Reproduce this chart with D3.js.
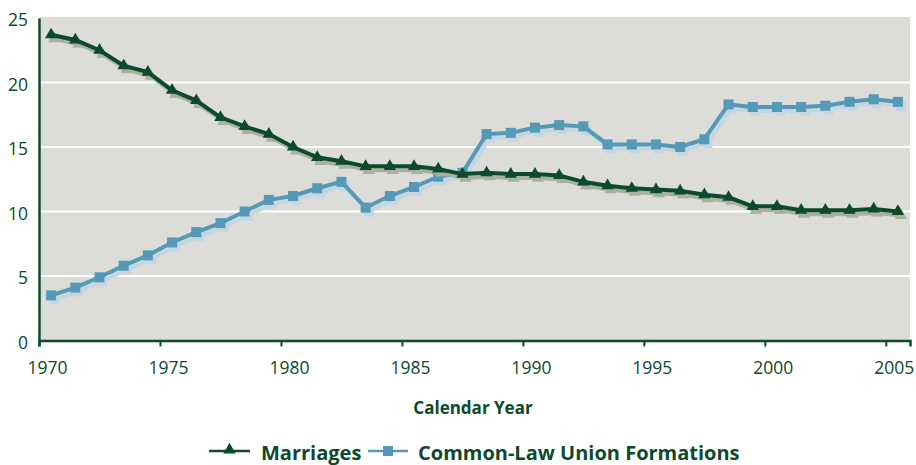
<!DOCTYPE html>
<html>
<head>
<meta charset="utf-8">
<script src="https://cdn.jsdelivr.net/npm/d3@7"></script>
<style>
  body { margin: 0; background: #fff; }
  svg { font-family: "Open Sans", "Noto Sans", sans-serif; }
</style>
</head>
<body>
<svg id="chart" width="916" height="465"></svg>
<script>
// years (points sit at mid-year)
const years = d3.range(1970, 2006);
const marriages = [23.7, 23.3, 22.5, 21.3, 20.8, 19.4, 18.6, 17.3, 16.6, 16.0,
  15.0, 14.2, 13.9, 13.5, 13.5, 13.5, 13.3, 12.9, 13.0, 12.9,
  12.9, 12.8, 12.3, 12.0, 11.8, 11.7, 11.6, 11.3, 11.1, 10.4,
  10.4, 10.1, 10.1, 10.1, 10.2, 10.0];
const commonLaw = [3.5, 4.1, 4.9, 5.8, 6.6, 7.6, 8.4, 9.1, 10.0, 10.9,
  11.2, 11.8, 12.3, 10.3, 11.2, 11.9, 12.7, 13.0, 16.0, 16.1,
  16.5, 16.7, 16.6, 15.2, 15.2, 15.2, 15.0, 15.6, 18.3, 18.1,
  18.1, 18.1, 18.2, 18.5, 18.7, 18.5];
const xTicks = [1970, 1975, 1980, 1985, 1990, 1995, 2000, 2005];
const yTicks = [0, 5, 10, 15, 20, 25];

const green = "#0b4a2a";
const blue = "#5499b6";

const svg = d3.select("#chart");
const x = d3.scaleLinear().domain([1970, 2006]).range([39, 910]);
const y = d3.scaleLinear().domain([0, 25]).range([340.5, 18]);

// plot background
svg.append("rect")
  .attr("x", x(1970)).attr("y", y(25) - 1)
  .attr("width", x(2006) - x(1970)).attr("height", y(0) - y(25) + 1)
  .attr("fill", "#dcddd8");

// gridlines
svg.append("g").selectAll("line")
  .data(yTicks.filter(d => d > 0 && d < 25))
  .join("line")
  .attr("x1", x(1970)).attr("x2", x(2006))
  .attr("y1", d => y(d)).attr("y2", d => y(d))
  .attr("stroke", "#fff").attr("stroke-width", 2);

// axes
const xAxis = svg.append("g")
  .attr("transform", `translate(0,${y(0)})`)
  .call(d3.axisBottom(x).tickValues(xTicks).tickFormat(d3.format("d")).tickSize(6).tickPadding(15));
const yAxis = svg.append("g")
  .attr("transform", `translate(${x(1970)},0)`)
  .call(d3.axisLeft(y).tickValues(yTicks).tickSize(0).tickPadding(11));
[xAxis, yAxis].forEach(g => {
  g.select(".domain").attr("stroke", green).attr("stroke-width", 2.5);
  g.selectAll(".tick line").attr("stroke", green).attr("stroke-width", 2);
  g.selectAll(".tick text").attr("fill", green).attr("font-size", 17.5)
    .attr("font-family", "'Open Sans', sans-serif");
});
// year labels sit a little right of their ticks
xAxis.selectAll(".tick text").attr("dx", 8);
yAxis.selectAll(".tick text").attr("dy", "0.45em");

const pts = vals => vals.map((v, i) => [years[i] + 0.5, v]);
const line = d3.line().x(d => x(d[0])).y(d => y(d[1]));
const tri = d3.symbol().type(d3.symbolTriangle).size(66);
const sq = d3.symbol().type(d3.symbolSquare).size(100);

function drawSeries(vals, color, shadow, sym) {
  const data = pts(vals);
  const sh = svg.append("g").attr("transform", "translate(3,4)");
  sh.append("path").datum(data).attr("d", line)
    .attr("fill", "none").attr("stroke", shadow).attr("stroke-width", 4);
  sh.selectAll("path.m").data(data).join("path").attr("class", "m")
    .attr("d", sym).attr("transform", d => `translate(${x(d[0])},${y(d[1])})`)
    .attr("fill", shadow);
  const g = svg.append("g");
  g.append("path").datum(data).attr("d", line)
    .attr("fill", "none").attr("stroke", color).attr("stroke-width", 4);
  g.selectAll("path.m").data(data).join("path").attr("class", "m")
    .attr("d", sym).attr("transform", d => `translate(${x(d[0])},${y(d[1])})`)
    .attr("fill", color);
}
drawSeries(commonLaw, blue, "#c4d6e1", sq);
drawSeries(marriages, green, "#a9b09f", tri);

// axis title
svg.append("text")
  .attr("x", 473).attr("y", 414)
  .attr("text-anchor", "middle")
  .attr("fill", green).attr("font-weight", "bold").attr("font-size", 17)
  .text("Calendar Year");

// legend
const legend = svg.append("g");
legend.append("line").attr("x1", 209).attr("x2", 250).attr("y1", 451).attr("y2", 451)
  .attr("stroke", green).attr("stroke-width", 2.5);
legend.append("path").attr("d", tri).attr("transform", "translate(229.5,450)").attr("fill", green);
legend.append("text").attr("x", 261).attr("y", 460)
  .attr("fill", green).attr("font-weight", "bold").attr("font-size", 20).text("Marriages");
legend.append("line").attr("x1", 368).attr("x2", 408).attr("y1", 451).attr("y2", 451)
  .attr("stroke", blue).attr("stroke-width", 2.5);
legend.append("path").attr("d", sq).attr("transform", "translate(388,451)").attr("fill", blue);
legend.append("text").attr("x", 418).attr("y", 460)
  .attr("fill", green).attr("font-weight", "bold").attr("font-size", 20).text("Common-Law Union Formations");
</script>
</body>
</html>
